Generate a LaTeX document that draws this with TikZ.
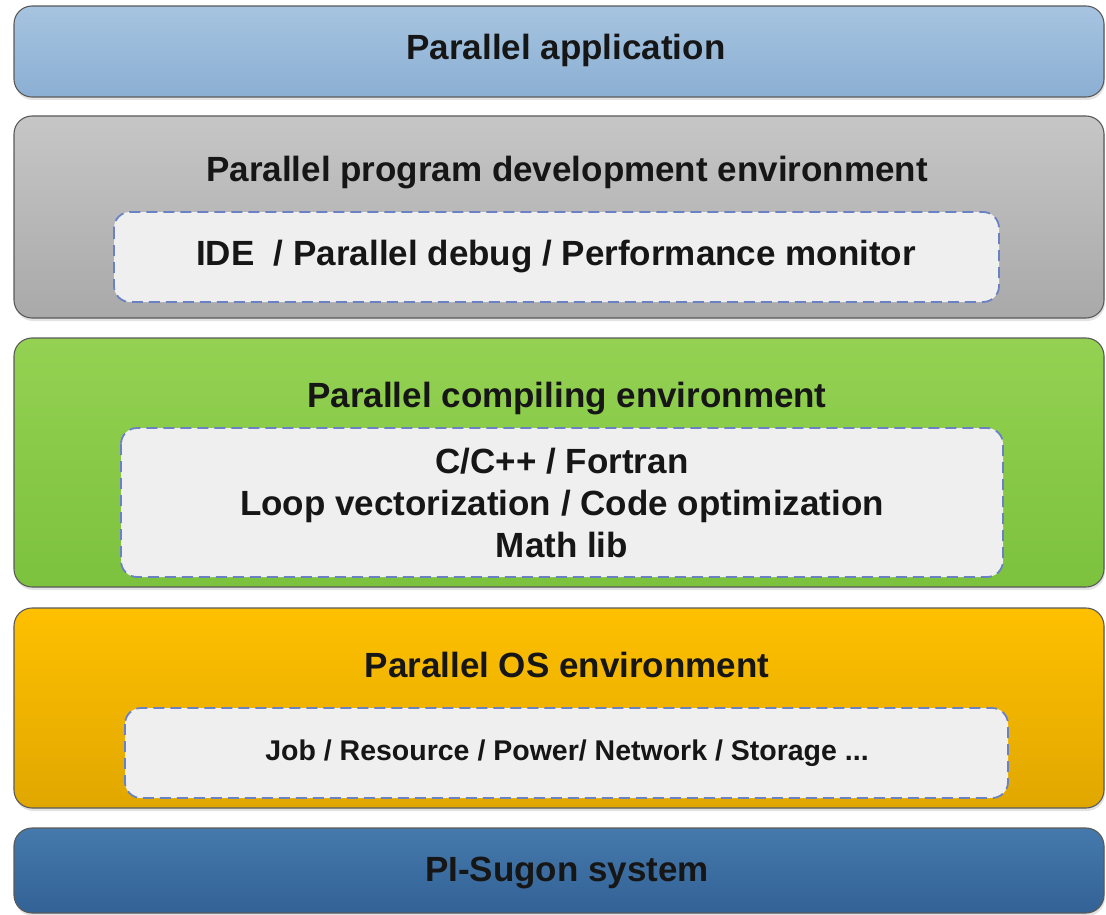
\documentclass[tikz,border=0pt]{standalone}
\usepackage{fontspec}
\setmainfont{Liberation Sans}
\usetikzlibrary{shadows}

\definecolor{appTop}{HTML}{A6C4E0}
\definecolor{appBot}{HTML}{8BAFD3}
\definecolor{devTop}{HTML}{C6C6C6}
\definecolor{devBot}{HTML}{A9A9A9}
\definecolor{cmpTop}{HTML}{94D152}
\definecolor{cmpBot}{HTML}{7CC23E}
\definecolor{osTop}{HTML}{FFC000}
\definecolor{osBot}{HTML}{E0A700}
\definecolor{sysTop}{HTML}{4579AB}
\definecolor{sysBot}{HTML}{336296}
\definecolor{panelFill}{HTML}{EFEFEF}
\definecolor{panelEdge}{HTML}{6A82C4}
\definecolor{edgeGray}{HTML}{5A5A5A}
\definecolor{ink}{HTML}{161616}

\tikzset{
  layer/.style={draw=edgeGray, line width=1.1pt, rounded corners=18pt,
    drop shadow={shadow xshift=1pt, shadow yshift=-3pt, opacity=0.22}},
  panel/.style={draw=panelEdge, fill=panelFill, dash pattern=on 11pt off 6pt,
    line width=1.8pt, rounded corners=16pt},
  title/.style={font=\bfseries\fontsize{35}{40}\selectfont, text=ink, inner sep=0pt},
  body/.style={font=\bfseries\fontsize{35}{42}\selectfont, text=ink, inner sep=0pt, align=center},
  small/.style={font=\bfseries\fontsize{28.5}{32}\selectfont, text=ink, inner sep=0pt},
}

\begin{document}
\begin{tikzpicture}[x=1pt, y=-1pt]
\useasboundingbox (0,0) rectangle (1106,915);

% outer layers
\path[layer, top color=appTop, bottom color=appBot] (14,6) rectangle (1104,97);
\path[layer, top color=devTop, bottom color=devBot] (14,116) rectangle (1104,318);
\path[layer, top color=cmpTop, bottom color=cmpBot] (14,338) rectangle (1104,587);
\path[layer, top color=osTop, bottom color=osBot] (14,608) rectangle (1104,808);
\path[layer, top color=sysTop, bottom color=sysBot] (14,828) rectangle (1104,913);

% dashed inner panels
\path[panel] (114,212) rectangle (999,302);
\path[panel] (121,428) rectangle (1003,577);
\path[panel] (125,708) rectangle (1008,798);

% labels
\node[title] (app) at (566,50) {Parallel application};
\node[title] (dev) at (567,173) {Parallel program development environment};
\node[title] (devtools) at (556,257) {IDE\ \ / Parallel debug / Performance monitor};
\node[title] (cmp) at (567,399) {Parallel compiling environment};
\node[body] (cmptools) at (562,503) {C/C++ / Fortran\\Loop vectorization / Code optimization\\Math lib};
\node[title] (os) at (567,665) {Parallel OS environment};
\node[small] (ostools) at (567,753) {Job / Resource / Power/ Network / Storage ...};
\node[title] (sys) at (567,873) {PI-Sugon system};
\end{tikzpicture}
\end{document}
